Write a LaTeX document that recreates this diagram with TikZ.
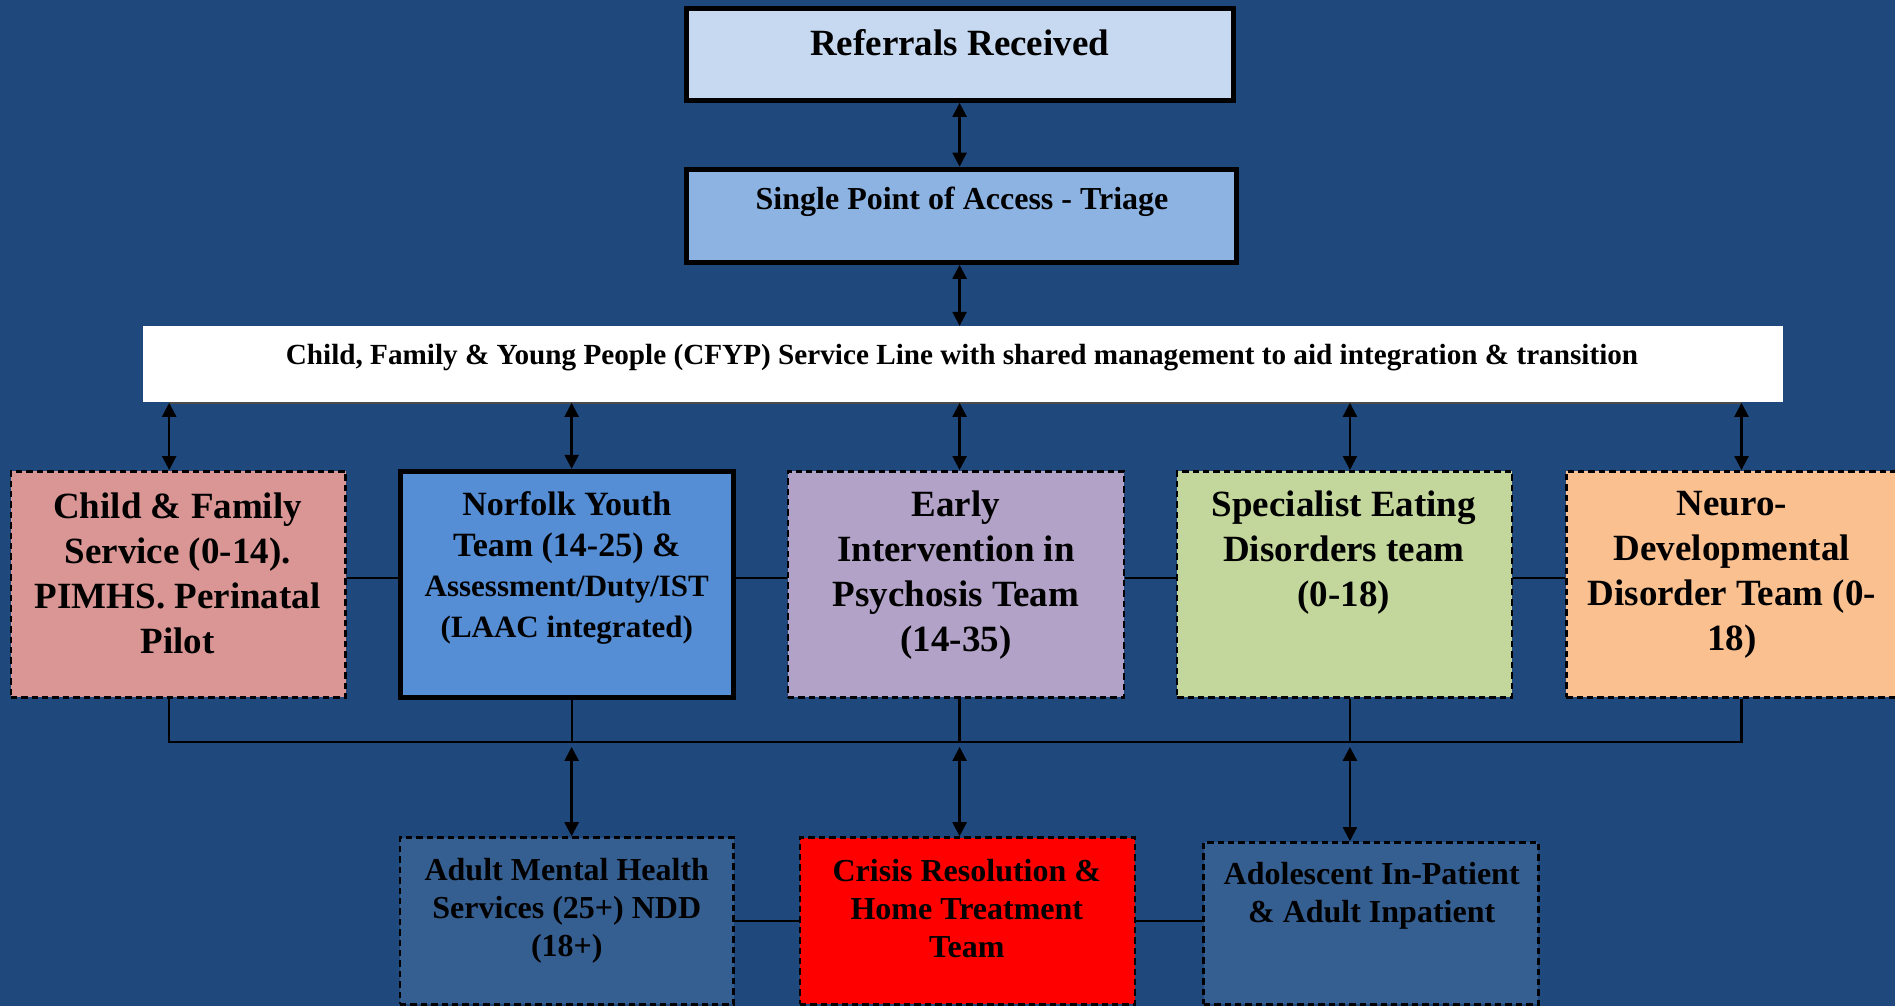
\documentclass[tikz,border=0pt]{standalone}
\usepackage{fontspec}
\setmainfont{Liberation Serif}
\usetikzlibrary{arrows.meta,fit}
\definecolor{bg}{HTML}{1F497D}
\definecolor{refc}{HTML}{C6D9F1}
\definecolor{spac}{HTML}{8DB3E2}
\definecolor{pinkc}{HTML}{D99694}
\definecolor{nyc}{HTML}{558ED5}
\definecolor{purc}{HTML}{B3A2C7}
\definecolor{grnc}{HTML}{C3D69B}
\definecolor{orac}{HTML}{FAC090}
\definecolor{dbc}{HTML}{365F91}
\tikzset{
  thickbox/.style={draw=black,line width=2.5pt,inner sep=0pt},
  dashbox/.style={draw=black,line width=1.3pt,dash pattern=on 3.2pt off 2pt,inner sep=0pt},
  txt/.style={inner sep=0pt,align=center,font=\bfseries},
  rowtxt/.style={txt,font=\fontsize{18.5}{22.5}\selectfont\bfseries},
  bottxt/.style={txt,font=\fontsize{16}{19}\selectfont\bfseries},
  conn/.style={draw=black,line width=1.1pt},
  dbl/.style={conn,line width=1.2pt,{Triangle[length=7pt,width=7pt]}-{Triangle[length=7pt,width=7pt]}}
}
\begin{document}
\begin{tikzpicture}[x=0.60427pt,y=-0.60427pt]
\useasboundingbox (0,0) rectangle (1568,832);
\clip (0,0) rectangle (1568,832);
\fill[bg] (0,0) rectangle (1568,832);
% top boxes
\node[thickbox,fill=refc,fit={(568,7)(1021,83)}] (ref) {};
\node[txt,font=\fontsize{18.5}{22}\selectfont\bfseries] (reft) at (794,35) {Referrals Received};
\node[thickbox,fill=spac,fit={(568,140)(1023,217)}] (spa) {};
\node[txt,font=\fontsize{16}{19}\selectfont\bfseries] (spat) at (796,167) {Single Point of Access - Triage};
\node[fill=white,inner sep=0pt,fit={(118,270)(1475,333)}] (banner) {};
\node[txt,font=\fontsize{14.6}{17}\selectfont\bfseries] (bant) at (796,296) {Child, Family \& Young People (CFYP) Service Line with shared management to aid integration \& transition};
% row boxes
\node[dashbox,fill=pinkc,fit={(9,390)(286,577)}] (b1) {};
\node[thickbox,fill=nyc,fit={(331,390)(607,577)}] (b2) {};
\node[dashbox,fill=purc,fit={(652,390)(930,577)}] (b3) {};
\node[dashbox,fill=grnc,fit={(974,390)(1251,577)}] (b4) {};
\node[dashbox,fill=orac,fit={(1296,390)(1580,577)}] (b5) {};
\node[rowtxt] (t1) at (147,474) {Child \& Family\\Service (0-14).\\PIMHS. Perinatal\\Pilot};
\node[txt,font=\fontsize{17}{20.3}\selectfont\bfseries] (t2) at (469,470) {Norfolk Youth\\Team (14-25) \&\\{\fontsize{15.5}{20.3}\selectfont Assessment/Duty/IST}\\{\fontsize{15.5}{20.3}\selectfont (LAAC integrated)}};
\node[rowtxt] (t3) at (791,476) {Early\\Intervention in\\Psychosis Team\\(14-35)};
\node[rowtxt] (t4) at (1112,457) {Specialist Eating\\Disorders team\\(0-18)};
\node[rowtxt] (t5) at (1433,476) {Neuro-\\Developmental\\Disorder Team (0-\\18)};
% bottom boxes
\node[dashbox,fill=dbc,fit={(331,693)(607,831)}] (a1) {};
\node[dashbox,fill=red,fit={(662,693)(939,831)}] (a2) {};
\node[dashbox,fill=dbc,fit={(996,697)(1273,831)}] (a3) {};
\node[bottxt] (at1) at (469,754) {Adult Mental Health\\Services (25+) NDD\\(18+)};
\node[bottxt] (at2) at (800,752) {Crisis Resolution \&\\Home Treatment\\Team};
\node[bottxt] (at3) at (1135,741) {Adolescent In-Patient\\\& Adult Inpatient};
% coordinates
\coordinate (c1) at (140,0);
\coordinate (c2) at (473,0);
\coordinate (c3) at (794,0);
\coordinate (c4) at (1117,0);
\coordinate (c5) at (1441,0);
\coordinate (rowl) at (0,478);
\coordinate (bus) at (0,614);
\coordinate (busa) at (0,618);
\coordinate (botl) at (0,762);
% connectors
\draw[dbl] (c3 |- ref.south) -- (c3 |- spa.north);
\draw[dbl] (c3 |- spa.south) -- (c3 |- banner.north);
\draw[conn,draw=black!70,line width=0.8pt] (c1 |- banner.south) -- (c5 |- banner.south);
\draw[dbl] (c1 |- banner.south) -- (c1 |- b1.north);
\draw[dbl] (c2 |- banner.south) -- (c2 |- b2.north);
\draw[dbl] (c3 |- banner.south) -- (c3 |- b3.north);
\draw[dbl] (c4 |- banner.south) -- (c4 |- b4.north);
\draw[dbl] (c5 |- banner.south) -- (c5 |- b5.north);
\draw[conn] (b1.east |- rowl) -- (b2.west |- rowl);
\draw[conn] (b2.east |- rowl) -- (b3.west |- rowl);
\draw[conn] (b3.east |- rowl) -- (b4.west |- rowl);
\draw[conn] (b4.east |- rowl) -- (b5.west |- rowl);
\draw[conn] (c1 |- b1.south) -- (c1 |- bus) -- (c5 |- bus) -- (c5 |- b5.south);
\draw[conn] (c2 |- b2.south) -- (c2 |- bus);
\draw[conn] (c3 |- b3.south) -- (c3 |- bus);
\draw[conn] (c4 |- b4.south) -- (c4 |- bus);
\draw[dbl] (c2 |- busa) -- (c2 |- a1.north);
\draw[dbl] (c3 |- busa) -- (c3 |- a2.north);
\draw[dbl] (c4 |- busa) -- (c4 |- a3.north);
\draw[conn] (a1.east |- botl) -- (a2.west |- botl);
\draw[conn] (a2.east |- botl) -- (a3.west |- botl);
\end{tikzpicture}
\end{document}
